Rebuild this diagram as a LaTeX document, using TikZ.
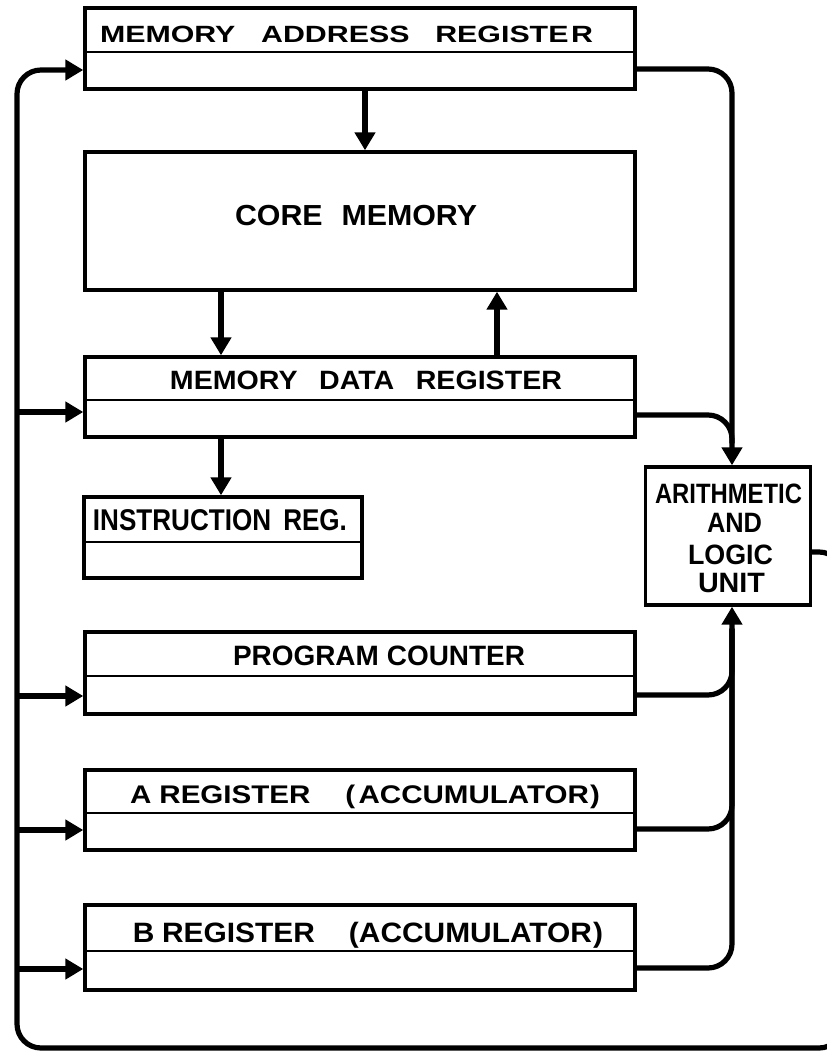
\documentclass[tikz,border=0pt]{standalone}
\usepackage{fontspec}
\usetikzlibrary{arrows.meta,calc}
\newfontfamily\lettering{Liberation Sans Bold}
% stretch a label horizontally to a given width, keeping its height
\newcommand\fitw[2]{\resizebox{#1}{\height}{#2}}
\newcommand\lsize[1]{\lettering\fontsize{#1}{#1}\selectfont}

\begin{document}
\begin{tikzpicture}[x=1pt,y=-1pt,
  regbox/.style={draw, line width=3.4pt, inner sep=0pt, rectangle},
  divider/.style={line width=2.8pt},
  lbl/.style={inner sep=0pt, anchor=base},
  bus/.style={line width=5.2pt, rounded corners=24pt},
  arr/.style={bus, -{Triangle[length=18pt,width=20pt]}},
  flow/.style={line width=5.2pt, -{Triangle[length=18pt,width=20pt]}}
]
\useasboundingbox (0,0) rectangle (827,1052);
\clip (0,0) rectangle (827,1052);

% ---------- registers and units ----------
\node[regbox, minimum width=550pt, minimum height=81pt]  (mar)  at (360,48.5) {};
\node[regbox, minimum width=550pt, minimum height=138pt] (core) at (360,221) {};
\node[regbox, minimum width=550pt, minimum height=80pt]  (mdr)  at (360,397) {};
\node[regbox, minimum width=278pt, minimum height=81pt]  (ir)   at (223,537.5) {};
\node[regbox, minimum width=550pt, minimum height=82pt]  (pc)   at (360,673) {};
\node[regbox, minimum width=550pt, minimum height=80pt]  (areg) at (360,810) {};
\node[regbox, minimum width=550pt, minimum height=85pt]  (breg) at (360,947.5) {};
\node[regbox, minimum width=165pt, minimum height=138pt] (alu)  at (728,536) {};

% split lines of the two-part registers
\draw[divider] ([yshift=-3.5pt]mar.west)  -- ([yshift=-3.5pt]mar.east);
\draw[divider] ([yshift=-3pt]mdr.west)    -- ([yshift=-3pt]mdr.east);
\draw[divider] ([yshift=-4.5pt]ir.west)   -- ([yshift=-4.5pt]ir.east);
\draw[divider] ([yshift=-3pt]pc.west)     -- ([yshift=-3pt]pc.east);
\draw[divider] ([yshift=-3pt]areg.west)   -- ([yshift=-3pt]areg.east);
\draw[divider] ([yshift=-3.5pt]breg.west) -- ([yshift=-3.5pt]breg.east);

% ---------- labels ----------
\node[lbl, font=\lsize{23.5}] (t-mar) at (346.5,42)
  {\fitw{493pt}{MEMORY\hspace{20pt}ADDRESS\hspace{20pt}REGISTE\hspace{2pt}R}};
\node[lbl, font=\lsize{29}] (t-core) at (356,225)
  {\fitw{242pt}{CORE\hspace{18pt}MEMORY}};
\node[lbl, font=\lsize{26.5}] (t-mdr) at (366,389)
  {\fitw{392pt}{MEMORY\hspace{20pt}DATA\hspace{20pt}REGISTER}};
\node[lbl, font=\lsize{30}] (t-ir) at (220,530)
  {\fitw{254pt}{INSTRUCTION\hspace{14pt}REG.}};
\node[lbl, font=\lsize{28}] (t-pc) at (379,665)
  {\fitw{292pt}{PROGRAM\hspace{8pt}COUNTER}};
\node[lbl, font=\lsize{25.5}] (t-a) at (365,803)
  {\fitw{470pt}{A\hspace{7pt}REGISTER\hspace{30pt}(\hspace{3pt}ACCUMULATOR\hspace{1pt})}};
\node[lbl, font=\lsize{28}] (t-b) at (368,942)
  {\fitw{470pt}{B\hspace{7pt}REGISTER\hspace{32pt}(ACCUMULATOR\hspace{1pt})}};

\node[lbl, font=\lsize{28}] (t-alu1) at (728.5,503) {\fitw{147pt}{ARITHMETIC}};
\node[lbl, font=\lsize{28}] (t-alu2) at (734.5,532) {\fitw{55pt}{AND}};
\node[lbl, font=\lsize{28}] (t-alu3) at (730.5,564) {\fitw{85pt}{LOGIC}};
\node[lbl, font=\lsize{28}] (t-alu4) at (731.5,592) {\fitw{67pt}{UNIT}};

% ---------- ports ----------
\coordinate (alu-in-top) at ([xshift=4pt]alu.north);
\coordinate (alu-in-bot) at ([xshift=4pt]alu.south);
\coordinate (alu-out)    at ([yshift=-16pt]alu.east);

\coordinate (mar-in)  at ([yshift=-21.5pt]mar.west);
\coordinate (mar-out) at ([yshift=-20.5pt]mar.east);
\coordinate (mdr-in)  at ([yshift=-15pt]mdr.west);
\coordinate (mdr-out) at ([yshift=-18pt]mdr.east);
\coordinate (pc-in)   at ([yshift=-23pt]pc.west);
\coordinate (pc-out)  at ([yshift=-22pt]pc.east);
\coordinate (a-in)    at ([yshift=-20pt]areg.west);
\coordinate (a-out)   at ([yshift=-19pt]areg.east);
\coordinate (b-in)    at ([yshift=-21.5pt]breg.west);
\coordinate (b-out)   at ([yshift=-20.5pt]breg.east);

\coordinate (mar-down) at ([xshift=5pt]mar.south);
\coordinate (core-down) at ([xshift=-139pt]core.south);
\coordinate (mdr-up)   at ([xshift=137pt]mdr.north);
\coordinate (mdr-down) at ([xshift=-139pt]mdr.south);

\coordinate (loop-se) at (843,1048);
\coordinate (loop-sw) at (17,1048);

% ---------- memory paths ----------
\draw[flow] (mar-down)  -- (core.north -| mar-down);
\draw[flow] (core-down) -- (mdr.north -| core-down);
\draw[flow] (mdr-up)    -- (core.south -| mdr-up);
\draw[flow] (mdr-down)  -- (ir.north -| mdr-down);

% ---------- buses into the ALU ----------
\draw[arr] (mar-out) -| (alu-in-top);
\draw[bus] (mdr-out) -| ([yshift=22pt]alu-in-top);
\draw[arr] (b-out) -| (alu-in-bot);
\draw[bus] (pc-out) -| ([yshift=-22pt]alu-in-bot);
\draw[bus] (a-out)  -| ([yshift=-22pt]alu-in-bot);

% ---------- return bus from the ALU ----------
\draw[arr] (alu-out) -| (loop-se) -- (loop-sw) |- (mar-in);
\draw[flow] (loop-sw |- mdr-in) -- (mdr-in);
\draw[flow] (loop-sw |- pc-in)  -- (pc-in);
\draw[flow] (loop-sw |- a-in)   -- (a-in);
\draw[flow] (loop-sw |- b-in)   -- (b-in);
\end{tikzpicture}
\end{document}
